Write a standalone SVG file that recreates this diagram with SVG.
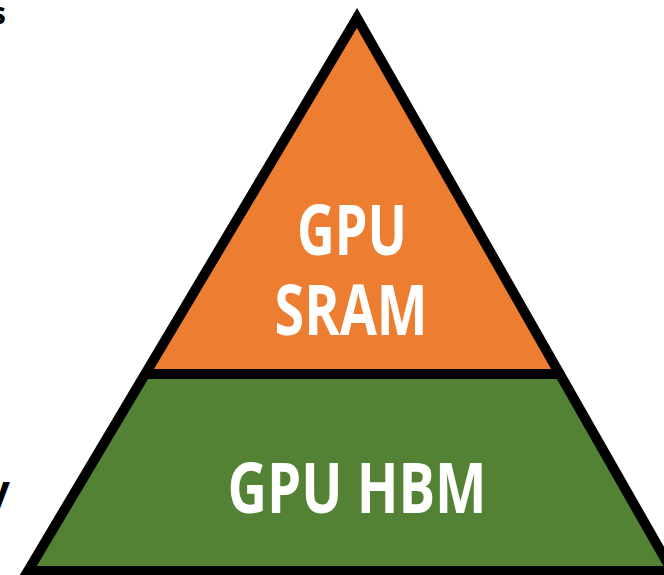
<svg xmlns="http://www.w3.org/2000/svg" width="664" height="575" viewBox="0 0 664 575">
<style>
.lbl{font-family:"Open Sans","Liberation Sans",sans-serif;font-weight:bold;fill:#ffffff;text-anchor:middle}
.edge{fill:none;stroke:#000;stroke-width:10;stroke-linejoin:miter;stroke-miterlimit:10}
.frag{font-family:"Open Sans","Liberation Sans",sans-serif;font-weight:bold;fill:#000}
</style>
<rect width="664" height="575" fill="#ffffff"/>
<text class="frag" x="6" y="24" font-size="30" text-anchor="end">s</text>
<text class="frag" x="10" y="505" font-size="42" text-anchor="end">y</text>
<g id="sram">
<polygon points="357,18 146,374 560,374" fill="#ED7D31"/>
<text class="lbl" x="352" y="255" font-size="70" textLength="110" lengthAdjust="spacingAndGlyphs">GPU</text>
<text class="lbl" x="351" y="335" font-size="70" textLength="153" lengthAdjust="spacingAndGlyphs">SRAM</text>
</g>
<g id="hbm">
<polygon points="146,374 560,374 672,571 28,571" fill="#548235"/>
<text class="lbl" x="357" y="513" font-size="70" textLength="259" lengthAdjust="spacingAndGlyphs">GPU HBM</text>
</g>
<g id="connectors">
<polygon class="edge" points="357,18 672,571 28,571"/>
<line class="edge" x1="146" y1="374" x2="560" y2="374"/>
</g>
</svg>
